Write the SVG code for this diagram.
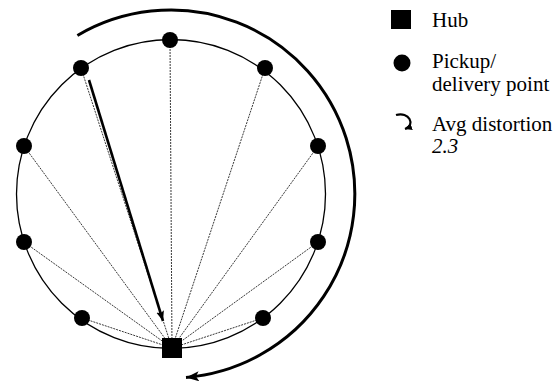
<svg xmlns="http://www.w3.org/2000/svg" width="555" height="381" viewBox="0 0 555 381">
  <style>
    .ring { fill: none; stroke: #000; stroke-width: 1.3; }
    .spoke { fill: none; stroke: #222; stroke-width: 0.9; stroke-dasharray: 2 1; }
    .route { fill: none; stroke: #000; stroke-width: 2.6; }
    .sweep { fill: none; stroke: #000; stroke-width: 3; }
    .point { fill: #000; }
    .label { font-size: 21px; fill: #000; }
    .num { font-style: italic; }
  </style>
  <defs>
    <marker id="headSmall" markerUnits="userSpaceOnUse" markerWidth="12" markerHeight="10" refX="10" refY="4" orient="auto">
      <path d="M0,0 L10,4 L0,8 L2,4 z" fill="#000"/>
    </marker>
    <marker id="headTiny" markerUnits="userSpaceOnUse" markerWidth="10" markerHeight="8" refX="7" refY="3.5" orient="auto">
      <path d="M0,0 L7,3.5 L0,7 z" fill="#000"/>
    </marker>
    <marker id="headBig" markerUnits="userSpaceOnUse" markerWidth="16" markerHeight="12" refX="13" refY="5" orient="auto">
      <path d="M0,0 L13,5 L0,10 L3,5 z" fill="#000"/>
    </marker>
  </defs>

  <!-- route circle -->
  <circle class="ring" cx="171" cy="194" r="154.5"/>

  <!-- connectors: spokes to the hub, the highlighted leg, and the outer sweep -->
  <g id="connectors">
    <line class="spoke" x1="170" y1="40" x2="172" y2="348"/>
    <line class="spoke" x1="81" y1="68" x2="172" y2="348"/>
    <line class="spoke" x1="265" y1="68" x2="172" y2="348"/>
    <line class="spoke" x1="24" y1="146" x2="172" y2="348"/>
    <line class="spoke" x1="318" y1="146" x2="172" y2="348"/>
    <line class="spoke" x1="24" y1="242" x2="172" y2="348"/>
    <line class="spoke" x1="318" y1="242" x2="172" y2="348"/>
    <line class="spoke" x1="82" y1="318" x2="172" y2="348"/>
    <line class="spoke" x1="263" y1="318" x2="172" y2="348"/>
    <line class="route" x1="89" y1="80" x2="163" y2="321" marker-end="url(#headSmall)"/>
    <path class="sweep" d="M77.4,35.5 A184,184 0 1 1 186,377.4" marker-end="url(#headBig)"/>
  </g>

  <!-- pickup / delivery points -->
  <g id="p-top"><circle class="point" cx="170" cy="40" r="8"/></g>
  <g id="p-upper-left"><circle class="point" cx="81" cy="68" r="8"/></g>
  <g id="p-upper-right"><circle class="point" cx="265" cy="68" r="8"/></g>
  <g id="p-left"><circle class="point" cx="24" cy="146" r="8"/></g>
  <g id="p-right"><circle class="point" cx="318" cy="146" r="8"/></g>
  <g id="p-lower-left"><circle class="point" cx="24" cy="242" r="8"/></g>
  <g id="p-lower-right"><circle class="point" cx="318" cy="242" r="8"/></g>
  <g id="p-bottom-left"><circle class="point" cx="82" cy="318" r="8"/></g>
  <g id="p-bottom-right"><circle class="point" cx="263" cy="318" r="8"/></g>

  <!-- hub -->
  <g id="hub"><rect class="point" x="162" y="338" width="20" height="20"/></g>

  <!-- legend -->
  <g id="legend" font-family="'Liberation Serif', 'Times New Roman', 'DejaVu Serif', serif">
    <g id="legend-hub">
      <rect class="point" x="391" y="10" width="20" height="19"/>
      <text class="label" x="432" y="27">Hub</text>
    </g>
    <g id="legend-point">
      <circle class="point" cx="402" cy="63" r="8.5"/>
      <text class="label" x="432" y="68">Pickup/</text>
      <text class="label" x="432" y="91">delivery point</text>
    </g>
    <g id="legend-distortion">
      <path d="M396,115 C409,111 416,125 405,129" fill="none" stroke="#000" stroke-width="2.2" marker-end="url(#headTiny)"/>
      <text class="label" x="432" y="131">Avg distortion</text>
      <text class="label num" x="432" y="153">2.3</text>
    </g>
  </g>
</svg>
